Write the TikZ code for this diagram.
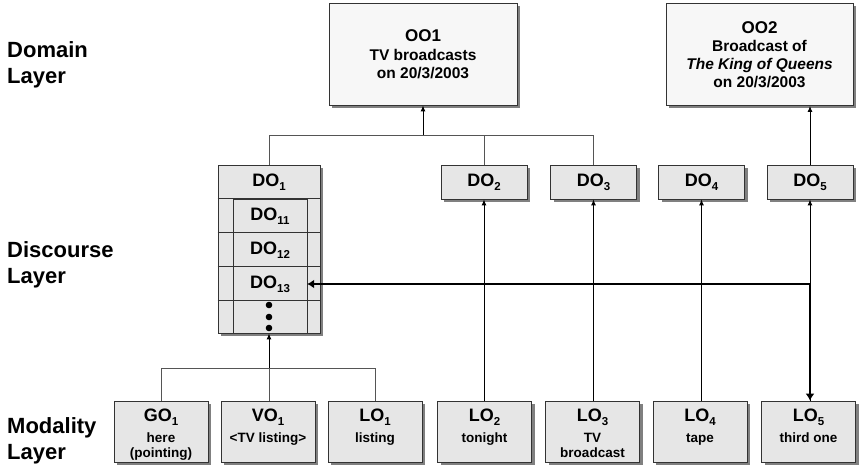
\documentclass[tikz,border=0pt]{standalone}
\usepackage{fontspec}
\setmainfont{Liberation Sans}
\usetikzlibrary{shadows,arrows.meta,calc}
\definecolor{boxfill}{HTML}{E6E6E6}
\definecolor{topfill}{HTML}{F7F7F7}
\definecolor{edge}{HTML}{333333}
\definecolor{shade}{HTML}{808080}
\definecolor{wire}{HTML}{555555}
% small lowered index used in the object labels
\newcommand\idx[1]{\raisebox{-0.22em}{\fontsize{11.5}{12}\selectfont #1}}
% modality box text: name on top, description below, aligned from the top
\newcommand\motext[2]{\parbox[c][61pt][t]{94pt}{\centering\vspace*{7.5pt}%
  {\fontsize{18}{20}\selectfont #1\par}\vspace{5.5pt}%
  {\fontsize{13.5}{15.5}\selectfont #2\par}}}
\begin{document}
\begin{tikzpicture}[x=1pt,y=-1pt,
  shadowed/.style={drop shadow={shadow xshift=3pt,shadow yshift=-3pt,fill=shade,opacity=1}},
  basebox/.style={draw=edge,line width=0.8pt,inner sep=0pt,align=center},
  oobox/.style={basebox,shadowed,fill=topfill,minimum width=188pt,minimum height=102pt,
    font=\bfseries\fontsize{15.5}{18}\selectfont},
  dobox/.style={basebox,shadowed,fill=boxfill,minimum width=86pt,minimum height=34pt,
    font=\bfseries\fontsize{18}{20}\selectfont},
  mobox/.style={basebox,shadowed,fill=boxfill,minimum width=94pt,minimum height=61pt,
    font=\bfseries},
  cell/.style={inner sep=0pt,minimum width=74pt,minimum height=34pt,
    font=\bfseries\fontsize{18}{20}\selectfont},
  layer/.style={anchor=north west,inner sep=0pt,align=left,
    font=\bfseries\fontsize{22}{26}\selectfont},
  tree/.style={draw=wire,line width=0.9pt},
  arr/.style={draw=black,line width=0.9pt,-{Latex[length=6pt,width=5pt]}},
  bold/.style={draw=black,line width=2.8pt,
    {Latex[length=7pt,width=9pt]}-{Latex[length=7pt,width=9pt]}},
]
\useasboundingbox (0,0) rectangle (859,468);

% layer captions
\node[layer] (lDomain) at (7,41.3) {Domain\\Layer};
\node[layer] (lDiscourse) at (7,241.3) {Discourse\\Layer};
\node[layer] (lModality) at (7,417.3) {Modality\\Layer};

% domain objects
\node[oobox] (oo1) at (423,54)
  {{\fontsize{17}{19}\selectfont OO1}\\[1.5pt]TV broadcasts\\on 20/3/2003};
\node[oobox,minimum width=187pt] (oo2) at (759.5,54.5)
  {{\fontsize{17}{19}\selectfont OO2}\\Broadcast of\\\textit{The King of Queens}\\on 20/3/2003};

% discourse objects: the DO1 stack
\node[basebox,shadowed,fill=boxfill,minimum width=102pt,minimum height=168pt] (stack) at (269,249) {};
\node[cell,minimum width=102pt] (do1) at (269,182) {DO\idx{1}};
\draw[edge,line width=0.8pt] (233,199) rectangle (307,333);
\node[cell] (do11) at (270,216) {DO\idx{11}};
\node[cell] (do12) at (270,250) {DO\idx{12}};
\node[cell] (do13) at (270,284) {DO\idx{13}};
\node[cell,minimum height=32pt] (dots) at (270,317) {};
\foreach \r in {do11,do12,do13,dots}
  \draw[edge,line width=0.8pt] (stack.west |- \r.north) -- (stack.east |- \r.north);
\foreach \dy in {-12,0,11}
  \fill (269,317+\dy) circle (3.3pt);

% remaining discourse objects
\node[dobox] (do2) at (484,182) {DO\idx{2}};
\node[dobox] (do3) at (593.5,182) {DO\idx{3}};
\node[dobox] (do4) at (701.5,182) {DO\idx{4}};
\node[dobox] (do5) at (810,182) {DO\idx{5}};

% modality objects
\node[mobox] (go1) at (161,431.5) {\motext{GO\idx{1}}{here\\(pointing)}};
\node[mobox] (vo1) at (268,431.5) {\motext{VO\idx{1}}{<TV listing>}};
\node[mobox] (lo1) at (375,431.5) {\motext{LO\idx{1}}{listing}};
\node[mobox] (lo2) at (484.5,431.5) {\motext{LO\idx{2}}{tonight}};
\node[mobox] (lo3) at (592.5,431.5) {\motext{LO\idx{3}}{TV\\broadcast}};
\node[mobox] (lo4) at (700,431.5) {\motext{LO\idx{4}}{tape}};
\node[mobox] (lo5) at (808.5,431.5) {\motext{LO\idx{5}}{third one}};

% DO1..DO3 merge into OO1
\coordinate (tj) at (oo1.south |- 0,135);
\draw[tree] (do1.north) -- (do1.north |- tj) -- (do3.north |- tj) -- (do3.north);
\draw[tree] (do2.north) -- (do2.north |- tj);
\draw[arr] (tj) -- (oo1.south);

% DO5 refers to OO2
\draw[arr] (do5.north) -- (do5.north |- oo2.south);

% GO1, VO1, LO1 merge into DO1
\coordinate (bj) at (stack.south |- 0,368);
\draw[tree] (go1.north) -- (go1.north |- bj) -- (lo1.north |- bj) -- (lo1.north);
\draw[tree] (bj |- vo1.north) -- (bj);
\draw[arr] (bj) -- (stack.south);

% linguistic objects to their discourse objects
\draw[arr] (do2.south |- lo2.north) -- (do2.south);
\draw[arr] (do3.south |- lo3.north) -- (do3.south);
\draw[arr] (do4.south |- lo4.north) -- (do4.south);
\draw[arr] (do5.south |- lo5.north) -- (do5.south);

% resolution of "third one"
\coordinate (bend) at (do5.south |- do13.east);
\draw[bold] (do13.east) -- (bend) -- (bend |- lo5.north);
\end{tikzpicture}
\end{document}
